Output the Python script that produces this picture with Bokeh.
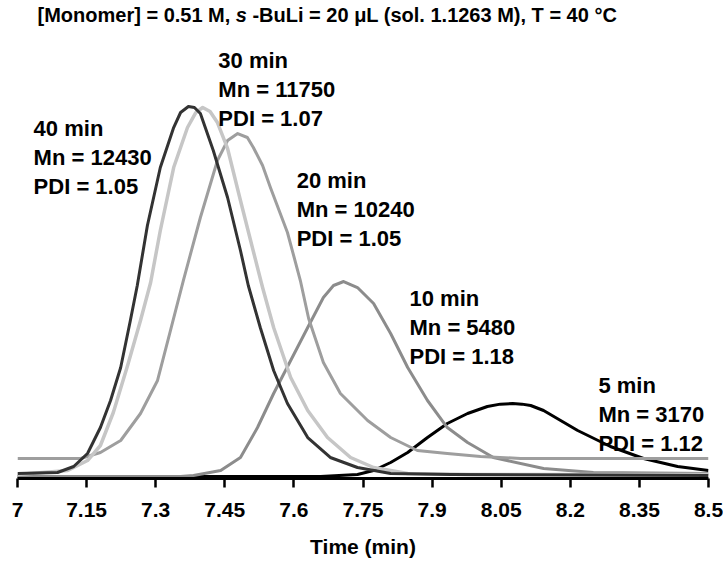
from bokeh.plotting import figure
from bokeh.models import Range1d, FixedTicker
from bokeh.core.properties import value
from bokeh.embed import file_html
from bokeh.resources import INLINE

# GPC traces: elution time (min) vs. detector response (a.u.)
t_40 = [7.000, 7.087, 7.122, 7.152, 7.180, 7.202, 7.224, 7.245, 7.260, 7.282,
        7.310, 7.339, 7.354, 7.371, 7.384, 7.397, 7.425, 7.456, 7.484, 7.501,
        7.527, 7.556, 7.586, 7.630, 7.679, 7.738, 7.810, 7.940, 8.500]
s_40 = [1.35, 1.62, 3.24, 6.76, 13.78, 21.08, 30.00, 42.70, 52.16, 68.38,
        84.05, 94.86, 98.92, 100.54, 100.27, 98.65, 88.65, 75.95, 61.62, 52.16,
        40.81, 29.19, 20.27, 11.08, 5.68, 2.97, 1.35, 1.08, 0.81]

t_30 = [7.000, 7.109, 7.152, 7.180, 7.208, 7.239, 7.267, 7.289, 7.310, 7.339,
        7.369, 7.387, 7.402, 7.418, 7.434, 7.456, 7.484, 7.506, 7.532, 7.556,
        7.593, 7.630, 7.673, 7.723, 7.773, 7.847, 7.983, 8.500]
s_30 = [1.08, 2.16, 4.86, 8.92, 17.84, 30.54, 42.70, 52.97, 67.03, 84.05,
        94.86, 98.9, 100.27, 99.2, 96.2, 89.2, 75.14, 64.32, 51.62, 40.81,
        27.30, 18.38, 11.08, 5.68, 2.97, 1.35, 1.08, 1.08]

t_20 = [7.000, 7.137, 7.180, 7.224, 7.267, 7.304, 7.332, 7.360, 7.397, 7.434,
        7.456, 7.478, 7.499, 7.512, 7.532, 7.549, 7.586, 7.614, 7.632, 7.664,
        7.701, 7.760, 7.810, 7.868, 7.933, 8.005, 8.092, 8.500]
s_20 = [5.41, 5.41, 7.03, 10.27, 17.57, 26.49, 40.00, 53.51, 70.54, 85.95,
        91.35, 93.24, 92.16, 89.46, 84.59, 78.65, 66.49, 53.51, 43.24, 31.35,
        22.97, 15.68, 11.08, 7.57, 6.76, 5.95, 5.41, 5.41]

t_10 = [7.000, 7.354, 7.382, 7.441, 7.484, 7.521, 7.556, 7.593, 7.630, 7.664,
        7.686, 7.708, 7.738, 7.773, 7.810, 7.847, 7.890, 7.933, 7.977, 8.033,
        8.142, 8.250, 8.500]
s_10 = [0.54, 0.54, 0.81, 2.16, 5.68, 13.78, 22.97, 31.89, 40.81, 48.92,
        52.16, 53.24, 51.62, 47.30, 39.19, 30.00, 21.08, 13.78, 9.73, 5.68,
        2.70, 1.62, 1.35]

t_5 = [7.000, 7.658, 7.738, 7.773, 7.810, 7.847, 7.890, 7.933, 7.977, 8.020,
       8.048, 8.075, 8.095, 8.114, 8.142, 8.179, 8.216, 8.287, 8.359, 8.433,
       8.500]
s_5 = [0.54, 0.54, 1.08, 2.16, 4.32, 7.03, 11.08, 14.86, 17.57, 19.46,
       20.1, 20.27, 20.1, 19.73, 18.38, 15.68, 12.97, 8.65, 5.41, 3.24,
       2.16]

# Sample annotations (reaction time, Mn, PDI)
sample_times = ["40 min", "30 min", "20 min", "10 min", "5 min"]
mn_values = [12430, 11750, 10240, 5480, 3170]
pdi_values = ["1.05", "1.07", "1.05", "1.18", "1.12"]

# Axis ticks
tick_values = [7.0, 7.15, 7.3, 7.45, 7.6, 7.75, 7.9, 8.05, 8.2, 8.35, 8.5]
tick_labels = ["7", "7.15", "7.3", "7.45", "7.6", "7.75", "7.9", "8.05", "8.2", "8.35", "8.5"]

FONT = "Liberation Sans"

p = figure(width=723, height=562, output_backend="svg", toolbar_location=None,
           x_range=Range1d(7.0, 8.5), y_range=Range1d(0, 129.19),
           y_axis_location=None, min_border_left=17, min_border_right=15,
           min_border_top=0, min_border_bottom=84)
p.outline_line_color = None
p.xgrid.visible = False
p.ygrid.visible = False
p.background_fill_color = "white"
p.border_fill_color = "white"

# traces, drawn from earliest sample to latest
series = [
    (t_5, s_5, "#000000", 3.0),
    (t_10, s_10, "#8c8c8c", 3.0),
    (t_20, s_20, "#9e9e9e", 3.0),
    (t_30, s_30, "#c6c6c6", 3.5),
    (t_40, s_40, "#333333", 3.0),
]
for t, s, col, w in series:
    p.line(t, s, line_color=col, line_width=w, line_join="round")

# x axis
ax = p.xaxis[0]
ax.ticker = FixedTicker(ticks=tick_values, minor_ticks=[])
ax.major_label_overrides = {v: l for v, l in zip(tick_values, tick_labels)}
ax.axis_line_width = 3
ax.axis_line_color = "black"
ax.major_tick_line_width = 2.5
ax.major_tick_line_color = "black"
ax.major_tick_out = 9
ax.major_tick_in = 0
ax.minor_tick_line_color = None
ax.major_label_text_font = FONT
ax.major_label_text_font_style = "bold"
ax.major_label_text_font_size = "21px"
ax.major_label_text_color = "black"
ax.major_label_standoff = 15
ax.axis_label = "Time (min)"
ax.axis_label_text_font = FONT
ax.axis_label_text_font_style = "bold"
ax.axis_label_text_font_size = "21px"
ax.axis_label_text_color = "black"
ax.axis_label_standoff = 15

# annotation blocks: anchor of first line (time, response)
label_x = [7.035, 7.436, 7.606, 7.851, 8.261]
label_y = [94.59, 112.97, 80.54, 48.65, 25.2]
line_step = 7.84
for lx, ly, name, mn, pdi in zip(label_x, label_y, sample_times, mn_values, pdi_values):
    lines = [name, f"Mn = {mn}", f"PDI = {pdi}"]
    p.text(x=[lx] * 3, y=[ly - i * line_step for i in range(3)], text=lines,
           text_font=value(FONT), text_font_style="bold", text_font_size="22px",
           text_color="black", text_align="left", text_baseline="middle")

# chart title with italic "s"
title_y = 125.14
p.text(x=[7.462], y=[title_y], text=["[Monomer] = 0.51 M,"],
       text_font=value(FONT), text_font_style="bold", text_font_size="20px",
       text_color="black", text_align="right", text_baseline="middle")
p.text(x=[7.474], y=[title_y], text=["s"],
       text_font=value(FONT), text_font_style="bold italic", text_font_size="20px",
       text_color="black", text_align="left", text_baseline="middle")
p.text(x=[7.510], y=[title_y], text=["-BuLi = 20 \u03bcL (sol. 1.1263 M), T = 40 \u00b0C"],
       text_font=value(FONT), text_font_style="bold", text_font_size="20px",
       text_color="black", text_align="left", text_baseline="middle")

open("out.html", "w").write(file_html(p, INLINE))
